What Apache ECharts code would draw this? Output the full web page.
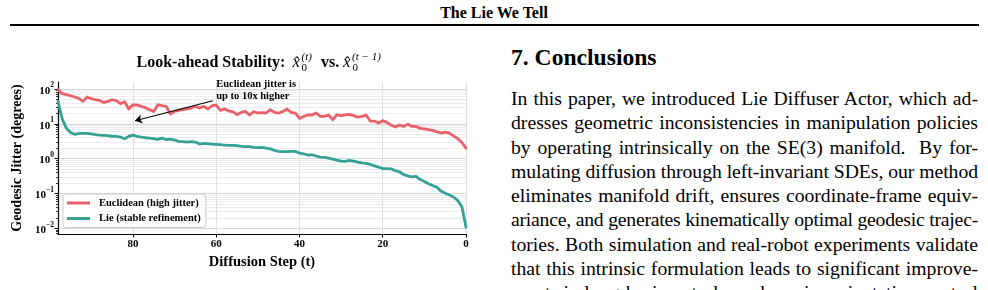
<!DOCTYPE html>
<html><head><meta charset="utf-8">
<script src="https://cdn.jsdelivr.net/npm/echarts@6/dist/echarts.min.js"></script>
<style>
html,body{margin:0;padding:0;background:#fff;width:988px;height:290px;overflow:hidden;font-family:'Liberation Serif','Times New Roman',serif;color:#000;}
#hdr{position:absolute;left:0;width:988px;top:5px;line-height:16px;text-align:center;font-weight:bold;font-size:16px;}
#rule{position:absolute;left:10px;top:24px;width:969px;height:2px;background:#000;}
#sec{position:absolute;left:511px;top:45px;font-size:23.6px;font-weight:bold;line-height:24px;white-space:nowrap;}
#para{position:absolute;left:511px;top:86px;width:467px;font-size:19.7px;}
#para .ln{white-space:nowrap;height:24.3px;line-height:24.3px;}
#chart{position:absolute;left:0;top:0;width:490px;height:290px;}
</style></head>
<body>
<div id="hdr">The Lie We Tell</div>
<div id="rule"></div>
<div id="chart"></div>
<div id="sec">7. Conclusions</div>
<div id="para">
<div class="ln"><span>In this paper, we introduced Lie Diffuser Actor, which ad-</span></div>
<div class="ln"><span>dresses geometric inconsistencies in manipulation policies</span></div>
<div class="ln"><span>by operating intrinsically on the SE(3) manifold.&nbsp; By for-</span></div>
<div class="ln"><span>mulating diffusion through left-invariant SDEs, our method</span></div>
<div class="ln"><span>eliminates manifold drift, ensures coordinate-frame equiv-</span></div>
<div class="ln"><span>ariance, and generates kinematically optimal geodesic trajec-</span></div>
<div class="ln"><span>tories. Both simulation and real-robot experiments validate</span></div>
<div class="ln"><span>that this intrinsic formulation leads to significant improve-</span></div>
<div class="ln"><span>ments in long-horizon tasks and precise orientation control</span></div>
</div>
<script>
// ---- data ----
const steps = [98,97,96,95,94,93,92,91,90,89,88,87,86,85,84,83,82,81,80,79,78,77,76,75,74,73,72,71,70,69,68,67,66,65,64,63,62,61,60,59,58,57,56,55,54,53,52,51,50,49,48,47,46,45,44,43,42,41,40,39,38,37,36,35,34,33,32,31,30,29,28,27,26,25,24,23,22,21,20,19,18,17,16,15,14,13,12,11,10,9,8,7,6,5,4,3,2,1,0];
const euclidean = [95,73,68.5,64,58.7,54,44,58.7,52.6,49,
  47,41,44,49,46,37.7,43,26.5,35,34.6,
  31.7,29,25.4,22.7,35.4,33,31.7,19,22.7,24.3,
  25.4,27,28.4,31.7,28.4,31.6,26.6,33,34.6,24.3,
  26.6,23.3,22.3,18.2,21.3,22.8,17.9,22.3,20.4,20.8,
  20.4,25.4,21.3,20.4,22.3,26.6,21.3,20.4,14.3,16.3,
  17.9,17.9,20.4,16.3,16.3,17.9,13.1,18.2,17.1,17.9,
  18.7,17.1,15.6,16.3,17.9,12,12,10.5,12.3,11,
  9.2,8.1,9.2,8.4,9.8,8.4,8.4,7.4,7.1,6.8,
  6.5,5.9,5.4,5.8,5.4,4.5,3.8,2.9,2.0];
const lie = [44,14,7.5,5.6,5.0,5.2,5.3,5.3,5.1,4.9,
  4.75,4.65,4.55,4.36,4.36,4.17,3.73,4.36,4.75,4.36,
  4.17,3.98,3.9,3.73,3.57,3.9,3.49,3.65,3.42,3.13,
  3.06,2.99,3.06,2.99,2.62,2.74,2.68,2.62,2.57,2.51,
  2.45,2.4,2.4,2.35,2.25,2.2,2.2,2.1,2.06,2.1,
  2.01,1.92,1.72,1.61,1.58,1.58,1.61,1.61,1.45,1.38,
  1.27,1.29,1.19,1.11,1.08,1.04,0.97,0.91,0.85,0.83,
  0.89,0.85,0.8,0.76,0.73,0.68,0.62,0.57,0.52,0.52,
  0.51,0.45,0.42,0.35,0.32,0.30,0.31,0.25,0.22,0.19,
  0.17,0.15,0.117,0.102,0.09,0.079,0.063,0.042,0.0108];
const seriesNames = ['Euclidean (high jitter)', 'Lie (stable refinement)'];
const xTicks = [80, 60, 40, 20, 0];
const yMajor = [0.01, 0.1, 1, 10, 100];
const yMinor = [0.007,0.008,0.009,0.02,0.03,0.04,0.05,0.06,0.07,0.08,0.09,0.2,0.3,0.4,0.5,0.6,0.7,0.8,0.9,2,3,4,5,6,7,8,9,20,30,40,50,60,70,80,90];
const xRange = [0, 98];
const yRange = [0.00686, 158.5];
const annoText = 'Euclidean jitter is\nup to 10x higher';
const annoTextAt = [60, 90];
const arrowFrom = [60.8, 46];
const arrowTo = [79.5, 12.2];

// ---- chart ----
const FF = "'Liberation Serif','Times New Roman',serif";
const RED = '#E9606B', TEAL = '#35A194';
const chart = echarts.init(document.getElementById('chart'), null, {renderer: 'canvas'});
const supNum = n => (n < 0 ? '\u2212' + (-n) : '' + n);
const gridLines = [].concat(
  yMinor.map(v => ({yAxis: v, lineStyle: {color: '#e8e8e8', width: 0.8, type: 'solid'}})),
  yMajor.map(v => ({yAxis: v, lineStyle: {color: '#d8d8d8', width: 1, type: 'solid'}})),
  xTicks.map(v => ({xAxis: v, lineStyle: {color: '#e0e0e0', width: 1, type: 'solid'}}))
);
const tW = 'bold 16px ' + FF, mI = 'italic 17px ' + FF, sI = 'italic 11px ' + FF, sR = '11px ' + FF;
const T = (text, x, y, font) => ({type: 'text', x: x, y: y, z: 100, silent: true,
  style: {text: text, font: font, fill: '#000', align: 'left', verticalAlign: 'middle'}});
const gridBox = {left: 58, right: 24, top: 82, bottom: 56, containLabel: false, outerBoundsMode: 'none'};
chart.setOption({
  animation: false,
  grid: [Object.assign({}, gridBox), Object.assign({}, gridBox)],
  graphic: [
    T('Look-ahead Stability:', 136.5, 63, tW),
    T('x\u0302', 292.5, 63, mI),
    T('(t)', 301.5, 57.5, sI),
    T('0', 301.5, 68.5, sR),
    T('vs.', 321, 63, tW),
    T('x\u0302', 343, 63, mI),
    T('(t \u2212 1)', 352, 57.5, sI),
    T('0', 352.5, 68.5, sR)
  ],
  legend: {
    data: seriesNames, orient: 'vertical', left: 63, top: 194,
    icon: 'rect', itemWidth: 23, itemHeight: 3, itemGap: 3.5,
    padding: [3, 5, 3, 4], borderColor: '#cccccc', borderWidth: 1, borderRadius: 3,
    backgroundColor: 'rgba(255,255,255,0.85)',
    textStyle: {fontFamily: FF, fontWeight: 'bold', fontSize: 10.5, color: '#000', lineHeight: 12, padding: [0, 0, 0, 4]},
    selectedMode: false, z: 10
  },
  xAxis: [{
    type: 'value', gridIndex: 0, inverse: true, min: xRange[0], max: xRange[1],
    axisLine: {show: true, onZero: false, lineStyle: {color: '#000', width: 1.2}},
    axisTick: {show: true, customValues: xTicks, length: 3.5, lineStyle: {color: '#000', width: 1}},
    axisLabel: {customValues: xTicks, color: '#000', fontFamily: FF, fontWeight: 'bold', fontSize: 11, margin: 5},
    splitLine: {show: false},
    name: 'Diffusion Step (t)', nameLocation: 'middle', nameGap: 18,
    nameTextStyle: {fontFamily: FF, fontWeight: 'bold', fontSize: 14.5, color: '#000'}
  }, {
    type: 'value', gridIndex: 1, inverse: true, min: xRange[0], max: xRange[1], show: false,
    axisLine: {show: false}, axisTick: {show: false}, axisLabel: {show: false}, splitLine: {show: false}
  }],
  yAxis: [{
    type: 'log', gridIndex: 0, logBase: 10, min: yRange[0], max: yRange[1], position: 'left',
    axisLine: {show: true, onZero: false, lineStyle: {color: '#000', width: 1.2}},
    axisTick: {show: true, customValues: yMajor, length: 3.5, lineStyle: {color: '#000', width: 1}},
    axisLabel: {customValues: yMajor, margin: 4,
      formatter: v => '{b|10}{s|' + supNum(Math.round(Math.log10(v))) + '}',
      rich: {
        b: {fontFamily: FF, fontWeight: 'bold', fontSize: 11, color: '#000', lineHeight: 15, verticalAlign: 'bottom'},
        s: {fontFamily: FF, fontWeight: 'bold', fontSize: 7.5, color: '#000', lineHeight: 9, verticalAlign: 'top'}
      }},
    splitLine: {show: false},
    name: 'Geodesic Jitter (degrees)', nameLocation: 'middle', nameGap: 28,
    nameTextStyle: {fontFamily: FF, fontWeight: 'bold', fontSize: 14, color: '#000'}
  }, {
    type: 'log', gridIndex: 1, logBase: 10, min: yRange[0], max: yRange[1], position: 'left',
    axisLine: {show: false, onZero: false},
    axisTick: {show: true, customValues: yMinor, length: 2, lineStyle: {color: '#000', width: 0.8}},
    axisLabel: {show: false},
    splitLine: {show: false}
  }],
  series: [
    {
      name: '_grid', type: 'line', xAxisIndex: 0, yAxisIndex: 0, data: [], z: 0, silent: true,
      markLine: {silent: true, z: 0, symbol: ['none', 'none'], label: {show: false}, emphasis: {disabled: true},
        lineStyle: {type: 'solid'}, animation: false, data: gridLines}
    },
    {
      name: seriesNames[0], type: 'line', xAxisIndex: 0, yAxisIndex: 0, z: 3,
      data: steps.map((t, i) => [t, euclidean[i]]),
      showSymbol: false, symbol: 'none',
      lineStyle: {color: RED, width: 2.8, join: 'round', cap: 'round'},
      itemStyle: {color: RED}, emphasis: {disabled: true},
      markLine: {
        silent: true, z: 6, symbol: ['none', 'arrow'], symbolSize: 7, label: {show: false}, emphasis: {disabled: true},
        lineStyle: {color: '#000', width: 1.2, type: 'solid'},
        data: [[{coord: arrowFrom}, {coord: arrowTo}]]
      },
      markPoint: {
        silent: true, z: 6, symbol: 'circle', symbolSize: 0, emphasis: {disabled: true},
        itemStyle: {color: 'rgba(0,0,0,0)'},
        label: {show: true, position: 'right', distance: 0, formatter: annoText, color: '#000',
          fontFamily: FF, fontWeight: 'bold', fontSize: 10.5, lineHeight: 11.7, align: 'left'},
        data: [{coord: annoTextAt}]
      }
    },
    {
      name: seriesNames[1], type: 'line', xAxisIndex: 0, yAxisIndex: 0, z: 3,
      data: steps.map((t, i) => [t, lie[i]]),
      showSymbol: false, symbol: 'none',
      lineStyle: {color: TEAL, width: 2.8, join: 'round', cap: 'round'},
      itemStyle: {color: TEAL}, emphasis: {disabled: true}
    }
  ]
});

// justify paragraph lines to the column width
document.querySelectorAll('#para .ln span').forEach(sp => {
  const W = 467;
  const w = sp.getBoundingClientRect().width;
  const txt = sp.textContent;
  const n = (txt.match(/[ \u00a0]/g) || []).length;
  if (w > W) {
    sp.style.letterSpacing = ((W - w) / txt.length) + 'px';
  } else if (n > 0) {
    sp.style.wordSpacing = ((W - w) / n) + 'px';
  }
});
</script>
</body></html>
